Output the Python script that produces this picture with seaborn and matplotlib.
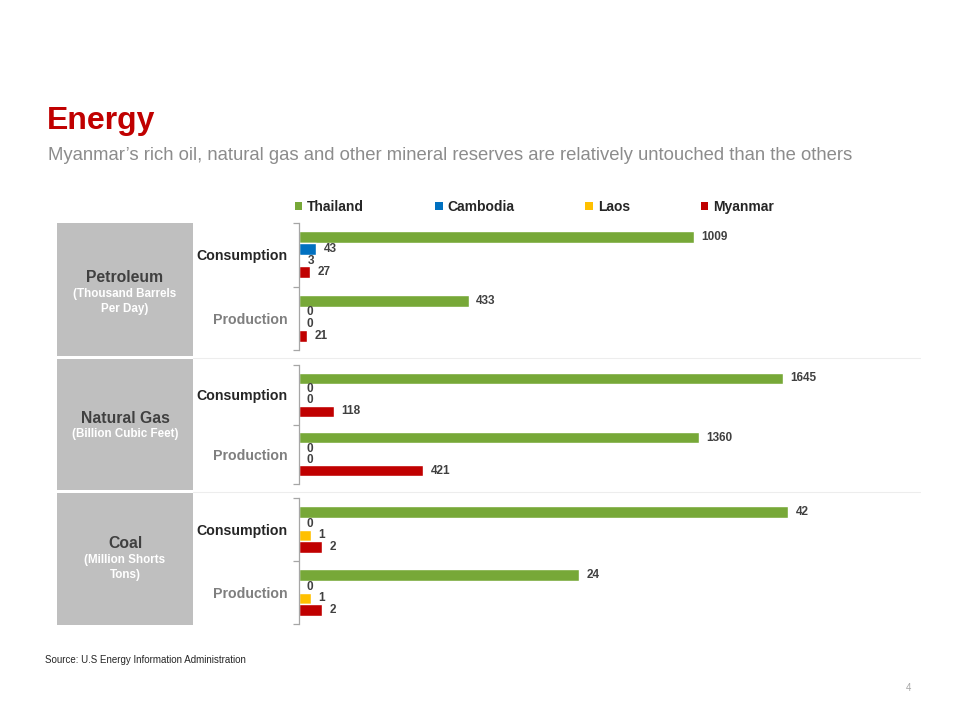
import pandas as pd
import matplotlib.pyplot as plt
import seaborn as sns
from matplotlib.patches import Rectangle, Patch
from matplotlib.lines import Line2D

# Data
countries = ['Thailand', 'Cambodia', 'Laos', 'Myanmar']
kinds = ['Consumption', 'Production']

petroleum_consumption = [1009, 43, 3, 27]
petroleum_production = [433, 0, 0, 21]
gas_consumption = [1645, 0, 0, 118]
gas_production = [1360, 0, 0, 421]
coal_consumption = [42, 0, 1, 2]
coal_production = [24, 0, 1, 2]

panel_names = ['Petroleum', 'Natural Gas', 'Coal']
panel_units = ['(Thousand Barrels\nPer Day)', '(Billion Cubic Feet)', '(Million Shorts\nTons)']

colors = {'Thailand': '#77A838', 'Cambodia': '#0070C0', 'Laos': '#FFC000', 'Myanmar': '#C00000'}


def make_frame(cons, prod):
    rows = []
    for kind, vals in zip(kinds, [cons, prod]):
        for c, v in zip(countries, vals):
            rows.append({'kind': kind, 'country': c, 'value': v})
    return pd.DataFrame(rows)


frames = [make_frame(petroleum_consumption, petroleum_production),
          make_frame(gas_consumption, gas_production),
          make_frame(coal_consumption, coal_production)]

sns.set_theme(style='white')
plt.rcParams['font.family'] = ['Liberation Sans', 'DejaVu Sans']

W, H = 960, 720
fig = plt.figure(figsize=(9.6, 7.2), dpi=100)


def fx(px):
    return px / W


def fy(py):
    return 1 - py / H


# panel layout in pixels: (axis top, axis bottom, box top, box bottom, x max)
layout = [(223, 350, 223, 356, 1535),
          (365, 484, 359, 490, 2043),
          (498, 624, 493, 625, 51.6)]
label_y = [(277, 301.5), (418, 434), (544, 567.5)]

ax_left, ax_right = 299, 900

for i, (df, (top, bot, btop, bbot, xmax)) in enumerate(zip(frames, layout)):
    # gray box with the panel name
    fig.patches.append(Rectangle((fx(57), fy(bbot)), fx(193) - fx(57), fy(btop) - fy(bbot),
                                 transform=fig.transFigure, facecolor='#BFBFBF',
                                 edgecolor='none', zorder=0))
    fig.text(fx(125), fy(label_y[i][0]), panel_names[i], ha='center', va='center',
             fontsize=11.3, fontweight='bold', color='#404040')
    fig.text(fx(125), fy(label_y[i][1]), panel_units[i], ha='center', va='center',
             fontsize=8.4, fontweight='bold', color='white', linespacing=1.25)

    ax = fig.add_axes([fx(ax_left), fy(bot), fx(ax_right) - fx(ax_left), fy(top) - fy(bot)])
    sns.barplot(data=df, y='kind', x='value', hue='country', hue_order=countries,
                order=kinds, orient='h', palette=colors, width=0.74, ax=ax,
                legend=False, saturation=1)
    for cont in ax.containers:
        ax.bar_label(cont, fmt='%g', padding=5.5, fontsize=8.5, fontweight='bold',
                     color='#404040')
    ax.set_xlim(0, xmax)
    ax.set_ylim(1.5, -0.5)
    ax.set_xlabel('')
    ax.set_ylabel('')
    ax.set_xticks([])
    ax.set_facecolor('none')
    for s in ['top', 'right', 'bottom']:
        ax.spines[s].set_visible(False)
    ax.spines['left'].set_color('#A6A6A6')
    ax.spines['left'].set_linewidth(0.9)
    ax.set_yticks([0, 1])
    ax.set_yticklabels(kinds, fontsize=10.2, fontweight='bold')
    ax.get_yticklabels()[0].set_color('#262626')
    ax.get_yticklabels()[1].set_color('#7F7F7F')
    ax.tick_params(axis='y', which='major', length=0, pad=8)
    ax.set_yticks([-0.5, 0.5, 1.5], minor=True)
    ax.tick_params(axis='y', which='minor', left=True, length=4, color='#A6A6A6',
                   width=0.9, direction='out')

# light separators between panels
for py in [357.5, 491.5]:
    fig.add_artist(Line2D([fx(193), fx(920)], [fy(py), fy(py)], color='#EDEDED', lw=0.8))

# titles
fig.text(fx(47), fy(121), 'Energy', fontsize=23, fontweight='bold', color='#C00000',
         ha='left', va='center')
fig.text(fx(48), fy(156), 'Myanmar\u2019s rich oil, natural gas and other mineral reserves are relatively untouched than the others',
         fontsize=13.3, color='#8C8C8C', ha='left', va='center')

# legend
handles = [Patch(facecolor=colors[c], edgecolor='none', label=c) for c in countries]
leg = fig.legend(handles=handles, loc='center left', bbox_to_anchor=(fx(289), fy(207)),
                 ncol=4, frameon=False, fontsize=10, handlelength=0.55, handleheight=0.55,
                 handletextpad=0.35, columnspacing=5.1, borderaxespad=0)
for t in leg.get_texts():
    t.set_fontweight('bold')
    t.set_color('#262626')

fig.text(fx(45), fy(660), 'Source: U.S Energy Information Administration', fontsize=7,
         color='#262626', ha='left', va='center')
fig.text(fx(908), fy(688), '4', fontsize=7, color='#A6A6A6', ha='center', va='center')

fig.savefig('out.png', dpi=100, facecolor='white')
